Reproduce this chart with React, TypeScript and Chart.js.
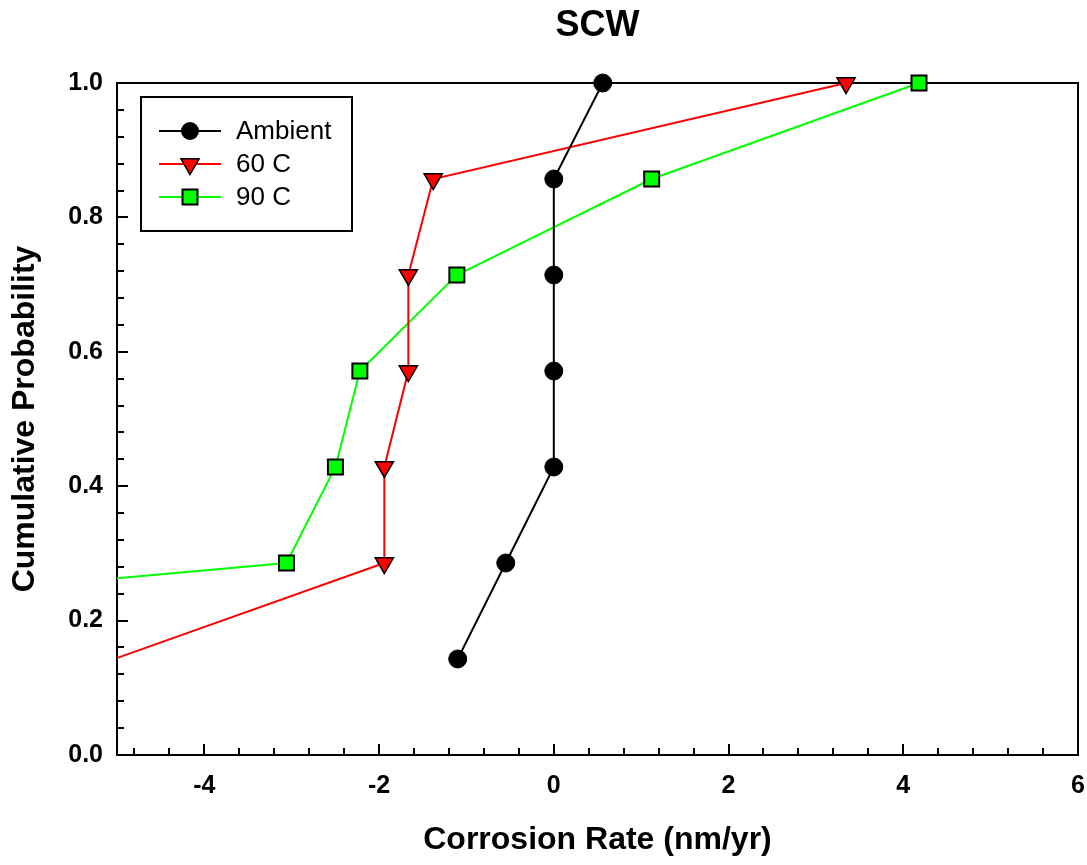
import React, { useEffect, useRef } from 'react';
import { Chart, registerables } from 'chart.js';

Chart.register(...registerables);

// ---- data ----
const probability = [0.1429, 0.2857, 0.4286, 0.5714, 0.7143, 0.8571, 1.0];
const ambientRate = [-1.1, -0.55, 0.0, 0.0, 0.0, 0.0, 0.56];
const c60Rate = [-5.03, -1.94, -1.94, -1.665, -1.665, -1.38, 3.345];
const c90Rate = [-15.2, -3.06, -2.5, -2.22, -1.11, 1.12, 4.18];

const seriesNames = ['Ambient', '60 C', '90 C'];
const seriesColors = ['#000000', '#ff0000', '#00ff00'];

const xTickValues = [-4, -2, 0, 2, 4, 6];
const yTickValues = [0, 0.2, 0.4, 0.6, 0.8, 1.0];
const xMin = -5;
const xMax = 6;
const yMin = 0;
const yMax = 1;
const xMinorStep = 0.4;
const xMinorStart = -4.8;
const yMinorStep = 0.04;

const FONT = "'Liberation Sans', Arial, sans-serif";

function drawMarker(ctx: CanvasRenderingContext2D, kind: number, x: number, y: number) {
  ctx.save();
  ctx.strokeStyle = '#000';
  if (kind === 0) {
    ctx.fillStyle = '#000';
    ctx.beginPath();
    ctx.arc(x, y, 9, 0, Math.PI * 2);
    ctx.fill();
  } else if (kind === 1) {
    const r = 10.5;
    ctx.fillStyle = seriesColors[1];
    ctx.lineWidth = 1.5;
    ctx.beginPath();
    for (let i = 0; i < 3; i++) {
      const a = Math.PI + (i * 2 * Math.PI) / 3;
      const px = x + Math.sin(a) * r;
      const py = y - Math.cos(a) * r;
      if (i === 0) ctx.moveTo(px, py);
      else ctx.lineTo(px, py);
    }
    ctx.closePath();
    ctx.fill();
    ctx.stroke();
  } else {
    ctx.fillStyle = seriesColors[2];
    ctx.lineWidth = 2;
    ctx.beginPath();
    ctx.rect(x - 7.5, y - 7.5, 15, 15);
    ctx.fill();
    ctx.stroke();
  }
  ctx.restore();
}

const framePlugin = {
  id: 'frameTicks',
  beforeDatasetsDraw(chart: any) {
    const { ctx, chartArea } = chart;
    const { left, right, top, bottom } = chartArea;
    const xs = chart.scales.x;
    const ys = chart.scales.y;
    ctx.save();
    ctx.strokeStyle = '#000';
    ctx.lineWidth = 2;
    ctx.strokeRect(left, top, right - left, bottom - top);
    ctx.beginPath();
    for (let i = 0; ; i++) {
      const v = Math.round((xMinorStart + i * xMinorStep) * 1000) / 1000;
      if (v > xMax + 1e-9) break;
      const px = Math.round(xs.getPixelForValue(v));
      ctx.moveTo(px, bottom);
      ctx.lineTo(px, bottom - 7);
    }
    for (const v of xTickValues) {
      const px = Math.round(xs.getPixelForValue(v));
      ctx.moveTo(px, bottom);
      ctx.lineTo(px, bottom - 11);
    }
    for (let i = 0; ; i++) {
      const v = Math.round(i * yMinorStep * 1000) / 1000;
      if (v > yMax + 1e-9) break;
      const py = Math.round(ys.getPixelForValue(v));
      ctx.moveTo(left, py);
      ctx.lineTo(left + 7, py);
    }
    for (const v of yTickValues) {
      const py = Math.round(ys.getPixelForValue(v));
      ctx.moveTo(left, py);
      ctx.lineTo(left + 11, py);
    }
    ctx.stroke();
    ctx.restore();
  },
  afterDraw(chart: any) {
    const { ctx } = chart;
    ctx.save();
    ctx.strokeStyle = '#000';
    ctx.lineWidth = 2;
    ctx.strokeRect(141, 97, 211, 134);
    const rows = [131, 164, 197];
    ctx.font = `26px ${FONT}`;
    ctx.textBaseline = 'middle';
    ctx.textAlign = 'left';
    rows.forEach((ry, i) => {
      ctx.strokeStyle = seriesColors[i];
      ctx.lineWidth = 2;
      ctx.beginPath();
      ctx.moveTo(159, ry);
      ctx.lineTo(221, ry);
      ctx.stroke();
      drawMarker(ctx, i, 190, ry);
      ctx.fillStyle = '#000';
      ctx.fillText(seriesNames[i], 236, ry + 1);
    });
    ctx.restore();
  },
};

export default function App() {
  const ref = useRef<HTMLCanvasElement | null>(null);

  useEffect(() => {
    if (!ref.current) return;
    const toPts = (xs: number[]) => xs.map((x, i) => ({ x, y: probability[i] }));
    const clip = { left: 0, top: false, right: false, bottom: false } as any;
    // markers whose value lies left of the axis are hidden (clipped), the line still enters
    const radiusFor = (r: number) => (c: any) => (c.raw && c.raw.x < xMin ? 0 : r);
    const chart = new Chart(ref.current, {
      type: 'scatter',
      data: {
        datasets: [
          {
            label: seriesNames[0],
            data: toPts(ambientRate),
            showLine: true,
            borderColor: seriesColors[0],
            borderWidth: 2,
            pointStyle: 'circle',
            pointRadius: radiusFor(9),
            pointBackgroundColor: '#000',
            pointBorderColor: '#000',
            pointBorderWidth: 1,
            clip,
          },
          {
            label: seriesNames[1],
            data: toPts(c60Rate),
            showLine: true,
            borderColor: seriesColors[1],
            borderWidth: 2,
            pointStyle: 'triangle',
            rotation: 180,
            pointRadius: radiusFor(10.5),
            pointBackgroundColor: seriesColors[1],
            pointBorderColor: '#000',
            pointBorderWidth: 1.5,
            clip,
          },
          {
            label: seriesNames[2],
            data: toPts(c90Rate),
            showLine: true,
            borderColor: seriesColors[2],
            borderWidth: 2,
            pointStyle: 'rect',
            pointRadius: radiusFor(10.6),
            pointBackgroundColor: seriesColors[2],
            pointBorderColor: '#000',
            pointBorderWidth: 2,
            clip,
          },
        ] as any,
      },
      options: {
        animation: false,
        responsive: false,
        events: [],
        color: '#000',
        layout: { autoPadding: false, padding: { left: 0, right: 9, top: 0, bottom: 0 } },
        plugins: {
          legend: { display: false },
          tooltip: { enabled: false },
          title: {
            display: true,
            fullSize: false,
            text: 'SCW',
            color: '#000',
            font: { family: FONT, size: 36, weight: 'bold', lineHeight: 1.2 },
            padding: { top: 4, bottom: 35.8 },
          },
        },
        scales: {
          x: {
            type: 'linear',
            min: xMin,
            max: xMax,
            grid: { display: false, drawTicks: false },
            border: { display: false },
            afterBuildTicks: (scale: any) => {
              scale.ticks = xTickValues.map((v) => ({ value: v }));
            },
            afterFit: (scale: any) => {
              scale.height = 110;
              scale.paddingLeft = 0;
              scale.paddingRight = 0;
            },
            ticks: {
              color: '#000',
              padding: 16,
              maxRotation: 0,
              font: { family: FONT, size: 25, weight: 'bold' },
              callback: (v: any) => String(v),
            },
            title: {
              display: true,
              text: 'Corrosion Rate (nm/yr)',
              color: '#000',
              font: { family: FONT, size: 32, weight: 'bold', lineHeight: 1.2 },
              padding: { top: 0, bottom: 6 },
            },
          },
          y: {
            type: 'linear',
            min: yMin,
            max: yMax,
            grid: { display: false, drawTicks: false },
            border: { display: false },
            afterBuildTicks: (scale: any) => {
              scale.ticks = yTickValues.map((v) => ({ value: v }));
            },
            afterFit: (scale: any) => {
              scale.width = 117;
              scale.paddingTop = 0;
              scale.paddingBottom = 0;
            },
            ticks: {
              color: '#000',
              padding: 14,
              font: { family: FONT, size: 25, weight: 'bold' },
              callback: (v: any) => Number(v).toFixed(1),
            },
            title: {
              display: true,
              text: 'Cumulative Probability',
              color: '#000',
              font: { family: FONT, size: 32, weight: 'bold', lineHeight: 1.2 },
              padding: { top: 6, bottom: 0 },
            },
          },
        },
      } as any,
      plugins: [framePlugin],
    });
    return () => chart.destroy();
  }, []);

  return (
    <div style={{ position: 'fixed', left: 0, top: 0, width: 1087, height: 865, background: '#fff' }}>
      <canvas ref={ref} width={1087} height={865} style={{ display: 'block' }} />
    </div>
  );
}
